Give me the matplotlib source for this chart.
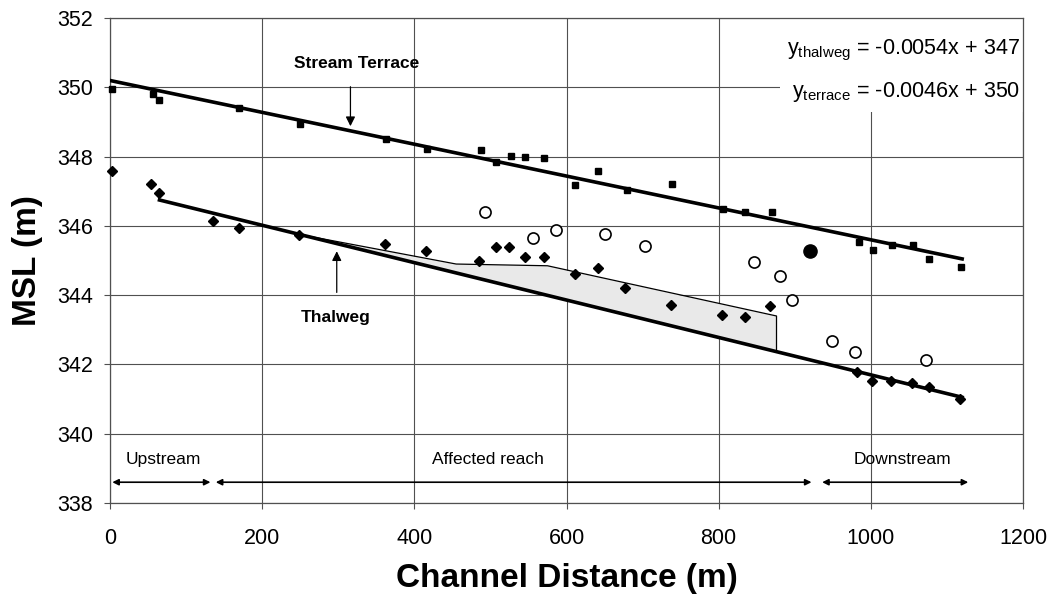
import matplotlib
matplotlib.use("Agg")
import matplotlib.pyplot as plt
import numpy as np
from matplotlib.patches import Rectangle

plt.rcParams['font.family'] = ['Liberation Sans', 'DejaVu Sans']
plt.rcParams['mathtext.fontset'] = 'custom'
plt.rcParams['mathtext.rm'] = 'Liberation Sans'
plt.rcParams['mathtext.default'] = 'rm'

# stream terrace survey points (squares)
terrace_x = [2, 56, 65, 170, 250, 363, 417, 487, 507, 527, 546, 570, 611, 642,
             679, 738, 806, 835, 870, 984, 1003, 1028, 1056, 1077, 1119]
terrace_y = [349.95, 349.8, 349.65, 349.4, 348.95, 348.5, 348.22, 348.2, 347.84,
             348.02, 348.0, 347.95, 347.17, 347.6, 347.05, 347.2, 346.5, 346.4,
             346.4, 345.55, 345.3, 345.45, 345.45, 345.05, 344.8]

# thalweg survey points (diamonds)
thalweg_x = [2, 54, 65, 136, 169, 248, 362, 415, 485, 507, 525, 545, 570, 611,
             641, 677, 737, 805, 835, 868, 982, 1001, 1026, 1054, 1076, 1117]
thalweg_y = [347.6, 347.2, 346.96, 346.14, 345.93, 345.73, 345.49, 345.27, 345.0,
             345.38, 345.38, 345.1, 345.1, 344.62, 344.78, 344.2, 343.73, 343.42,
             343.36, 343.7, 341.78, 341.52, 341.52, 341.47, 341.34, 341.0]

# other points (open circles) and one filled circle
open_x = [493, 556, 586, 650, 703, 847, 881, 896, 949, 979, 1073]
open_y = [346.39, 345.65, 345.88, 345.77, 345.42, 344.96, 344.55, 343.87,
          342.69, 342.36, 342.12]
solid_x = [920]
solid_y = [345.27]

# linear trend lines (slope, intercept) and their x range
terrace_fit = (-0.0046, 350.2)
terrace_span = [0, 1120]
thalweg_fit = (-0.0054, 347.1)
thalweg_span = [65, 1120]

# upper edge of the shaded deposit area
deposit_x = [250, 455, 575, 876]
deposit_top = [345.75, 344.9, 344.85, 343.4]

# reaches along the channel
reach_names = ["Upstream", "Affected reach", "Downstream"]
reach_start = [3, 139, 936]
reach_end = [132, 922, 1128]
reach_label_x = [70, 497, 1042]

fig = plt.figure(figsize=(10.61, 6.05), dpi=100)
ax = fig.add_axes([0.1037, 0.1686, 0.8605, 0.8014])

ax.set_xlim(0, 1200)
ax.set_ylim(338, 352)
ax.set_xticks(np.arange(0, 1201, 200))
ax.set_yticks(np.arange(338, 353, 2))
ax.set_axisbelow(True)
ax.grid(True, color='#505050', lw=0.8)
for sp in ax.spines.values():
    sp.set_color('#505050')
    sp.set_linewidth(0.9)
ax.tick_params(labelsize=15.5, direction='out', length=4, color='#505050')
ax.tick_params(axis='x', pad=14)
ax.tick_params(axis='y', pad=8)

# white patch behind the equations
ax.add_patch(Rectangle((880, 349.3), 320, 2.7, facecolor='white',
                       edgecolor='none', zorder=1))

# shaded area between thalweg line and upper line
dx = np.array(deposit_x)
bottom = thalweg_fit[0] * dx + thalweg_fit[1]
ax.fill_between(dx, deposit_top, bottom, color='#e9e9e9', lw=0, zorder=2)
ax.plot(list(dx) + [dx[-1]], deposit_top + [bottom[-1]], color='black',
        lw=0.9, zorder=3)

# trend lines
tx = np.array(terrace_span)
ax.plot(tx, terrace_fit[0] * tx + terrace_fit[1], color='black', lw=2.6, zorder=4)
hx = np.array(thalweg_span)
ax.plot(hx, thalweg_fit[0] * hx + thalweg_fit[1], color='black', lw=2.6, zorder=4)

# points
ax.plot(terrace_x, terrace_y, 's', color='black', ms=5, zorder=5, clip_on=False)
ax.plot(thalweg_x, thalweg_y, 'D', color='black', ms=5.5, zorder=5, clip_on=False)
ax.plot(open_x, open_y, 'o', mfc='white', mec='black', mew=1.2, ms=8, zorder=5)
ax.plot(solid_x, solid_y, 'o', color='black', ms=9.5, zorder=5)

# labels with arrows
ax.annotate('', xy=(316, 348.8), xytext=(316, 350.1),
            arrowprops=dict(arrowstyle='-|>', color='black', lw=0.9,
                            mutation_scale=14))
ax.text(324, 350.7, 'Stream Terrace', ha='center', va='center',
        fontsize=12.5, fontweight='bold')
ax.annotate('', xy=(298, 345.35), xytext=(298, 344.0),
            arrowprops=dict(arrowstyle='-|>', color='black', lw=0.9,
                            mutation_scale=14))
ax.text(297, 343.35, 'Thalweg', ha='center', va='center',
        fontsize=12.5, fontweight='bold')

# equations
ax.text(0.997, 351.08, r'$y_{thalweg}$ = -0.0054x + 347', transform=ax.get_yaxis_transform(),
        ha='right', va='center', fontsize=15.5, zorder=6)
ax.text(0.997, 349.86, r'$y_{terrace}$ = -0.0046x + 350', transform=ax.get_yaxis_transform(),
        ha='right', va='center', fontsize=15.5, zorder=6)

# reach arrows
for name, x0, x1, lx in zip(reach_names, reach_start, reach_end, reach_label_x):
    ax.annotate('', xy=(x1, 338.6), xytext=(x0, 338.6),
                arrowprops=dict(arrowstyle='<|-|>', color='black', lw=1.2,
                                mutation_scale=9, shrinkA=0, shrinkB=0))
    ax.text(lx, 339.25, name, ha='center', va='center', fontsize=12.5)

ax.set_xlabel('Channel Distance (m)', fontsize=24, fontweight='bold', labelpad=10)
ax.set_ylabel('MSL (m)', fontsize=24, fontweight='bold', labelpad=10)

fig.savefig('out.png', dpi=100)
